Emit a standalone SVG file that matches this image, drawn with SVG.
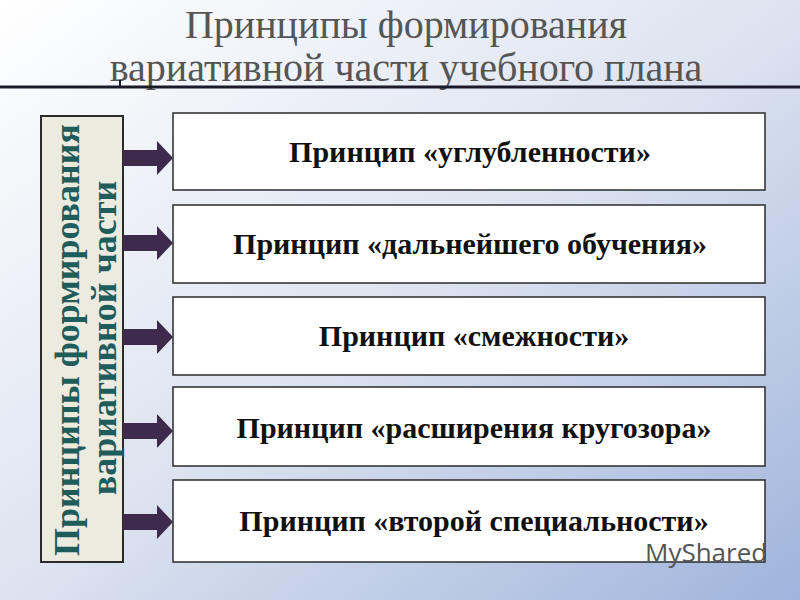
<svg xmlns="http://www.w3.org/2000/svg" width="800" height="600" viewBox="0 0 800 600">
<defs>
<linearGradient id="bg" x1="0" y1="0" x2="1" y2="1">
<stop offset="0" stop-color="#ffffff"/><stop offset="0.5" stop-color="#dde3f0"/><stop offset="1" stop-color="#9fb4dc"/>
</linearGradient>
<path id="arr" d="M0,-8 H34 V-17 L50,0 L34,17 V8 H0 Z" fill="#3e2a4a"/>
</defs>
<style>
.box{fill:#fff;stroke:#2b2b2b;stroke-width:1.5}
.t{font-family:"Liberation Serif",serif;font-weight:bold;font-size:30px;fill:#111;text-anchor:middle}
.h{font-family:"Liberation Serif",serif;font-size:40px;fill:#555;text-anchor:middle}
.v{font-family:"Liberation Serif",serif;font-weight:bold;font-size:36px;fill:#1f5c5c;text-anchor:middle}
</style>
<rect width="800" height="600" fill="url(#bg)"/>
<text class="h" x="406" y="38">Принципы формирования</text>
<text class="h" x="406" y="81">вариативной части учебного плана</text>
<line x1="0" y1="87" x2="800" y2="87" stroke="#1a1a2a" stroke-width="3"/>
<line x1="120" y1="80" x2="120" y2="87" stroke="#1a1a2a" stroke-width="2"/>
<g id="left">
<rect x="41" y="116" width="82" height="446" fill="#ecebe0" stroke="#2b2b2b" stroke-width="2"/>
<text class="v" transform="translate(79,340) rotate(-90)">Принципы формирования</text>
<text class="v" transform="translate(116,338) rotate(-90)">вариативной части</text>
</g>
<g id="connectors">
<use href="#arr" x="123" y="158"/>
<use href="#arr" x="123" y="243"/>
<use href="#arr" x="123" y="337"/>
<use href="#arr" x="123" y="431"/>
<use href="#arr" x="123" y="522"/>
</g>
<g id="n1"><rect class="box" x="173" y="113" width="592" height="77"/><text class="t" x="470" y="162">Принцип «углубленности»</text></g>
<g id="n2"><rect class="box" x="173" y="205" width="592" height="78"/><text class="t" x="470" y="254">Принцип «дальнейшего обучения»</text></g>
<g id="n3"><rect class="box" x="173" y="297" width="592" height="78"/><text class="t" x="474" y="346">Принцип «смежности»</text></g>
<g id="n4"><rect class="box" x="173" y="387" width="592" height="79"/><text class="t" x="474" y="438">Принцип «расширения кругозора»</text></g>
<g id="n5"><rect class="box" x="173" y="480" width="592" height="82"/><text class="t" x="474" y="531">Принцип «второй специальности»</text></g>
<text x="645" y="562" style="font-family:'Open Sans',sans-serif;font-size:26px;fill:#555">MyShared</text>
</svg>
